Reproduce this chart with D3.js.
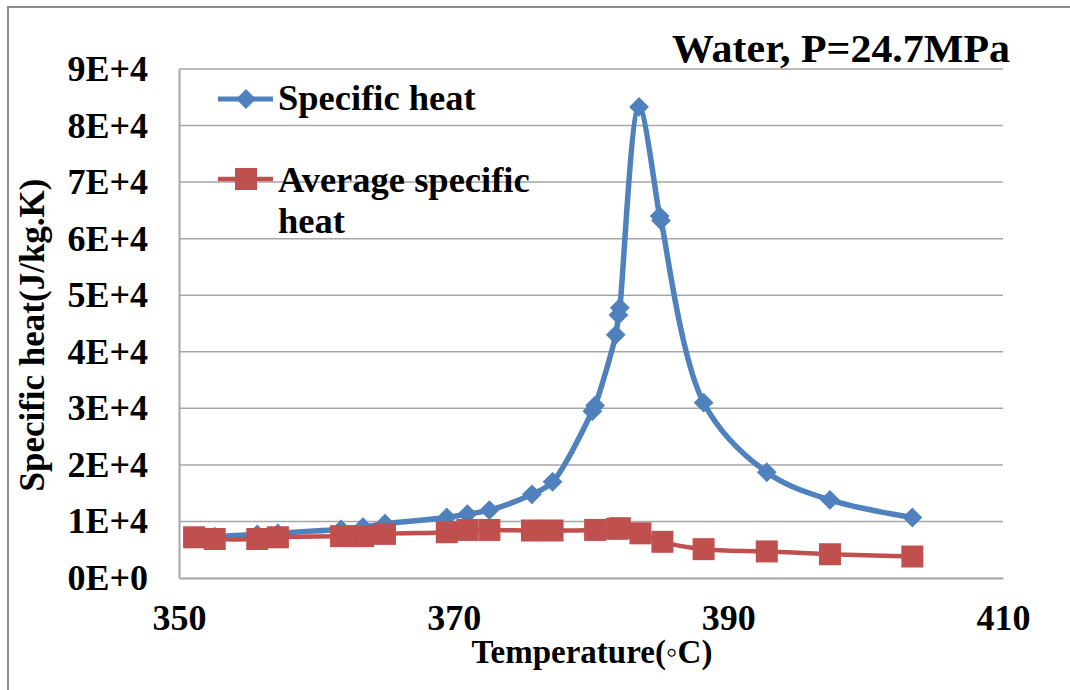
<!DOCTYPE html>
<html>
<head>
<meta charset="utf-8">
<script src="https://cdn.jsdelivr.net/npm/d3@7"></script>
<style>
  html, body { margin: 0; padding: 0; background: #fff; }
  svg { display: block; }
  svg text { font-family: "Liberation Serif", "Times New Roman", Times, "DejaVu Serif", serif; font-weight: bold; fill: #000; }
</style>
</head>
<body>
<div id="chart"></div>
<script>
// data
const tempSpecific = [351.1, 352.6, 355.7, 357.2, 361.8, 363.4, 365.0, 369.5, 371.0, 372.6, 375.7, 377.2,
  380.1, 380.3, 381.8, 382.0, 382.1, 383.5, 385.0, 385.1, 388.2, 392.8, 397.4, 403.4];
const specificHeat = [7200, 7300, 7700, 7900, 8600, 9000, 9600, 10700, 11300, 12000, 14800, 17000,
  29500, 30500, 43000, 46500, 47800, 83300, 64000, 63200, 31000, 18700, 13800, 10700];

const tempAverage = [351.1, 352.6, 355.7, 357.2, 361.8, 363.4, 365.0, 369.5, 371.0, 372.6, 375.7, 377.2,
  380.3, 381.9, 382.1, 383.6, 385.2, 388.2, 392.8, 397.4, 403.4];
const averageHeat = [7200, 6900, 6900, 7200, 7400, 7400, 7800, 8100, 8500, 8500, 8400, 8400,
  8500, 8700, 8800, 7900, 6400, 5100, 4700, 4200, 3800];

const xTicks = [350, 370, 390, 410];
const yTicks = [0, 10000, 20000, 30000, 40000, 50000, 60000, 70000, 80000, 90000];
const seriesNames = ["Specific heat", "Average specific heat"];

const width = 1070, height = 690;
const plotLeft = 179, plotRight = 1003, plotTop = 69, plotBottom = 578;
const blue = "#4f81bd", red = "#c0504d", grid = "#a6a6a6";

const svg = d3.select("#chart").append("svg")
  .attr("width", width)
  .attr("height", height);

// outer chart border
svg.append("rect")
  .attr("x", 8).attr("y", 7)
  .attr("width", width).attr("height", height)
  .attr("fill", "none").attr("stroke", "#8c8c8c").attr("stroke-width", 2);

const x = d3.scaleLinear().domain([350, 410]).range([plotLeft, plotRight]);
const y = d3.scaleLinear().domain([0, 90000]).range([plotBottom, plotTop]);

// gridlines
svg.append("g")
  .selectAll("line")
  .data(yTicks.filter(d => d > 0))
  .join("line")
  .attr("x1", plotLeft).attr("x2", plotRight)
  .attr("y1", d => y(d)).attr("y2", d => y(d))
  .attr("stroke", grid).attr("stroke-width", 1.5);

// axes
const fmt = d => d === 0 ? "0E+0" : (d / 10000) + "E+4";
const yAxis = svg.append("g")
  .attr("transform", `translate(${plotLeft},0)`)
  .call(d3.axisLeft(y).tickValues(yTicks).tickFormat(fmt).tickSize(0).tickPadding(31));
const xAxis = svg.append("g")
  .attr("transform", `translate(0,${plotBottom})`)
  .call(d3.axisBottom(x).tickValues(xTicks).tickFormat(d3.format("d")).tickSize(0).tickPadding(32));

[yAxis, xAxis].forEach(ax => {
  ax.attr("font-family", null).attr("font-size", 36);
  ax.select(".domain").attr("stroke", grid).attr("stroke-width", 2);
  ax.selectAll("text").attr("fill", "#000");
});
xAxis.selectAll("text").attr("dy", "0.55em");

// axis titles
svg.append("text")
  .attr("x", 592).attr("y", 663)
  .attr("text-anchor", "middle")
  .attr("font-size", 33)
  .text("Temperature(\u25E6C)");

svg.append("text")
  .attr("transform", "translate(44,335) rotate(-90)")
  .attr("text-anchor", "middle")
  .attr("font-size", 35)
  .text("Specific heat(J/kg.K)");

// title
svg.append("text")
  .attr("x", 1010).attr("y", 62)
  .attr("text-anchor", "end")
  .attr("font-size", 41)
  .attr("textLength", 338)
  .attr("lengthAdjust", "spacingAndGlyphs")
  .text("Water, P=24.7MPa");

// series
const line = d3.line()
  .x(d => x(d[0]))
  .y(d => y(d[1]))
  .curve(d3.curveCatmullRom.alpha(0.5));

const blueData = d3.zip(tempSpecific, specificHeat);
const redData = d3.zip(tempAverage, averageHeat);

const diamond = d3.symbol().type(d3.symbolDiamond2).size(250);

svg.append("path")
  .datum(blueData)
  .attr("fill", "none")
  .attr("stroke", blue)
  .attr("stroke-width", 5.5)
  .attr("stroke-linejoin", "round")
  .attr("d", line);

svg.append("g")
  .selectAll("path")
  .data(blueData)
  .join("path")
  .attr("transform", d => `translate(${x(d[0])},${y(d[1])})`)
  .attr("d", diamond)
  .attr("fill", blue);

svg.append("path")
  .datum(redData)
  .attr("fill", "none")
  .attr("stroke", red)
  .attr("stroke-width", 4.5)
  .attr("stroke-linejoin", "round")
  .attr("d", line);

const sq = 22;
svg.append("g")
  .selectAll("rect")
  .data(redData)
  .join("rect")
  .attr("x", d => x(d[0]) - sq / 2)
  .attr("y", d => y(d[1]) - sq / 2)
  .attr("width", sq).attr("height", sq)
  .attr("fill", red);

// legend
const legend = svg.append("g");
legend.append("line")
  .attr("x1", 218).attr("x2", 273).attr("y1", 99).attr("y2", 99)
  .attr("stroke", blue).attr("stroke-width", 5);
legend.append("path")
  .attr("transform", "translate(246,99)")
  .attr("d", diamond)
  .attr("fill", blue);
legend.append("text")
  .attr("x", 278).attr("y", 110)
  .attr("font-size", 36.5)
  .text(seriesNames[0]);

legend.append("line")
  .attr("x1", 218).attr("x2", 273).attr("y1", 179).attr("y2", 179)
  .attr("stroke", red).attr("stroke-width", 4.5);
legend.append("rect")
  .attr("x", 246 - 11).attr("y", 179 - 11)
  .attr("width", 22).attr("height", 22)
  .attr("fill", red);
const redLabel = legend.append("text")
  .attr("x", 278).attr("y", 192)
  .attr("font-size", 36.5);
redLabel.append("tspan").attr("x", 278).text("Average specific");
redLabel.append("tspan").attr("x", 278).attr("dy", 41).text("heat");
</script>
</body>
</html>
